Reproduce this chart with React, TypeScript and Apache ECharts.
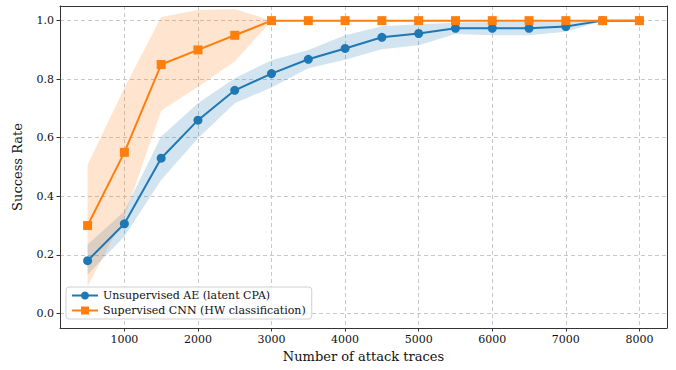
import React, { useEffect, useRef } from "react";
import * as echarts from "echarts";

const traces = [500, 1000, 1500, 2000, 2500, 3000, 3500, 4000, 4500, 5000, 5500, 6000, 6500, 7000, 7500, 8000];
const aeMean = [0.18, 0.306, 0.53, 0.66, 0.762, 0.819, 0.868, 0.905, 0.943, 0.956, 0.974, 0.974, 0.974, 0.98, 1.0, 1.0];
const aeLow = [0.133, 0.263, 0.456, 0.598, 0.718, 0.772, 0.837, 0.866, 0.902, 0.916, 0.954, 0.95, 0.95, 0.962, 1.0, 1.0];
const aeHigh = [0.235, 0.349, 0.604, 0.718, 0.803, 0.865, 0.9, 0.95, 0.981, 0.988, 0.993, 0.995, 0.995, 0.997, 1.0, 1.0];
const cnnMean = [0.3, 0.55, 0.85, 0.9, 0.95, 1.0, 1.0, 1.0, 1.0, 1.0, 1.0, 1.0, 1.0, 1.0, 1.0, 1.0];
const cnnLow = [0.093, 0.33, 0.692, 0.774, 0.86, 1.0, 1.0, 1.0, 1.0, 1.0, 1.0, 1.0, 1.0, 1.0, 1.0, 1.0];
const cnnHigh = [0.508, 0.77, 1.012, 1.036, 1.04, 1.0, 1.0, 1.0, 1.0, 1.0, 1.0, 1.0, 1.0, 1.0, 1.0, 1.0];
const xTicks = [1000, 2000, 3000, 4000, 5000, 6000, 7000, 8000];
const yTicks = [0.0, 0.2, 0.4, 0.6, 0.8, 1.0];
const seriesNames = ["Unsupervised AE (latent CPA)", "Supervised CNN (HW classification)"];

const FONT = "DejaVu Serif";
const BLUE = "#1f77b4";
const ORANGE = "#ff7f0e";
const X_MIN = 125;
const X_MAX = 8375;
const Y_MIN = -0.05;
const Y_MAX = 1.05;

function bandSeries(name: string, low: number[], high: number[], color: string) {
  const data = traces.map((x, i) => [x, low[i], high[i]]);
  return {
    type: "custom",
    name,
    data,
    z: 1,
    clip: true,
    silent: true,
    encode: { x: 0, y: [1, 2] },
    renderItem: (params: any, api: any) => {
      if (params.dataIndex !== 0) return null;
      const upper = data.map((d) => api.coord([d[0], d[2]]));
      const lower = data.map((d) => api.coord([d[0], d[1]])).reverse();
      return {
        type: "polygon",
        shape: { points: upper.concat(lower) },
        style: { fill: color, opacity: 0.2, lineWidth: 0 },
      };
    },
  };
}

const spine = { show: true, onZero: false, lineStyle: { color: "#333", width: 1 } };
const gridLine = { show: true, lineStyle: { color: "#c8c8c8", type: [4, 3], width: 1 } };

export default function App() {
  const ref = useRef<HTMLDivElement>(null);
  useEffect(() => {
    if (!ref.current) return;
    const chart = echarts.init(ref.current, null, { renderer: "svg" });
    chart.setOption({
      animation: false,
      textStyle: { fontFamily: FONT },
      grid: { left: 60, right: 9, top: 6, bottom: 42, containLabel: false },
      legend: {
        left: 66,
        top: 287,
        orient: "vertical",
        itemWidth: 26,
        itemHeight: 10,
        itemGap: 4,
        padding: [3, 6, 3, 5],
        backgroundColor: "rgba(255,255,255,0.85)",
        borderColor: "#d0d0d0",
        borderWidth: 1,
        borderRadius: 3,
        textStyle: { fontFamily: FONT, fontSize: 11, color: "#111" },
        data: seriesNames,
      },
      xAxis: [
        {
          type: "value",
          min: X_MIN,
          max: X_MAX,
          name: "Number of attack traces",
          nameLocation: "middle",
          nameGap: 22,
          nameTextStyle: { fontFamily: FONT, fontSize: 13, color: "#111" },
          axisLine: spine,
          axisTick: { show: true, length: 3.5, inside: false, customValues: xTicks, lineStyle: { color: "#333" } },
          axisLabel: {
            customValues: xTicks,
            fontFamily: FONT,
            fontSize: 11,
            color: "#111",
            margin: 6,
            formatter: (v: number) => String(v),
          },
          splitLine: gridLine,
        },
        {
          type: "value",
          position: "top",
          min: X_MIN,
          max: X_MAX,
          axisLine: spine,
          axisTick: { show: false },
          axisLabel: { show: false },
          splitLine: { show: false },
        },
      ],
      yAxis: [
        {
          type: "value",
          min: Y_MIN,
          max: Y_MAX,
          name: "Success Rate",
          nameLocation: "middle",
          nameGap: 36,
          nameTextStyle: { fontFamily: FONT, fontSize: 13, color: "#111" },
          axisLine: spine,
          axisTick: { show: true, length: 3.5, inside: false, customValues: yTicks, lineStyle: { color: "#333" } },
          axisLabel: {
            customValues: yTicks,
            fontFamily: FONT,
            fontSize: 11,
            color: "#111",
            margin: 6,
            formatter: (v: number) => v.toFixed(1),
          },
          splitLine: gridLine,
        },
        {
          type: "value",
          position: "right",
          min: Y_MIN,
          max: Y_MAX,
          axisLine: spine,
          axisTick: { show: false },
          axisLabel: { show: false },
          splitLine: { show: false },
        },
      ],
      series: [
        bandSeries("aeBand", aeLow, aeHigh, BLUE),
        bandSeries("cnnBand", cnnLow, cnnHigh, ORANGE),
        {
          type: "line",
          name: seriesNames[0],
          data: traces.map((x, i) => [x, aeMean[i]]),
          z: 3,
          color: BLUE,
          symbol: "circle",
          symbolSize: 9,
          lineStyle: { width: 2, color: BLUE },
          itemStyle: { color: BLUE },
        },
        {
          type: "line",
          name: seriesNames[1],
          data: traces.map((x, i) => [x, cnnMean[i]]),
          z: 4,
          color: ORANGE,
          symbol: "rect",
          symbolSize: 9,
          lineStyle: { width: 2, color: ORANGE },
          itemStyle: { color: ORANGE },
        },
      ],
    });
    return () => chart.dispose();
  }, []);
  return <div ref={ref} style={{ width: 676, height: 370, position: "absolute", left: 0, top: 0 }} />;
}
